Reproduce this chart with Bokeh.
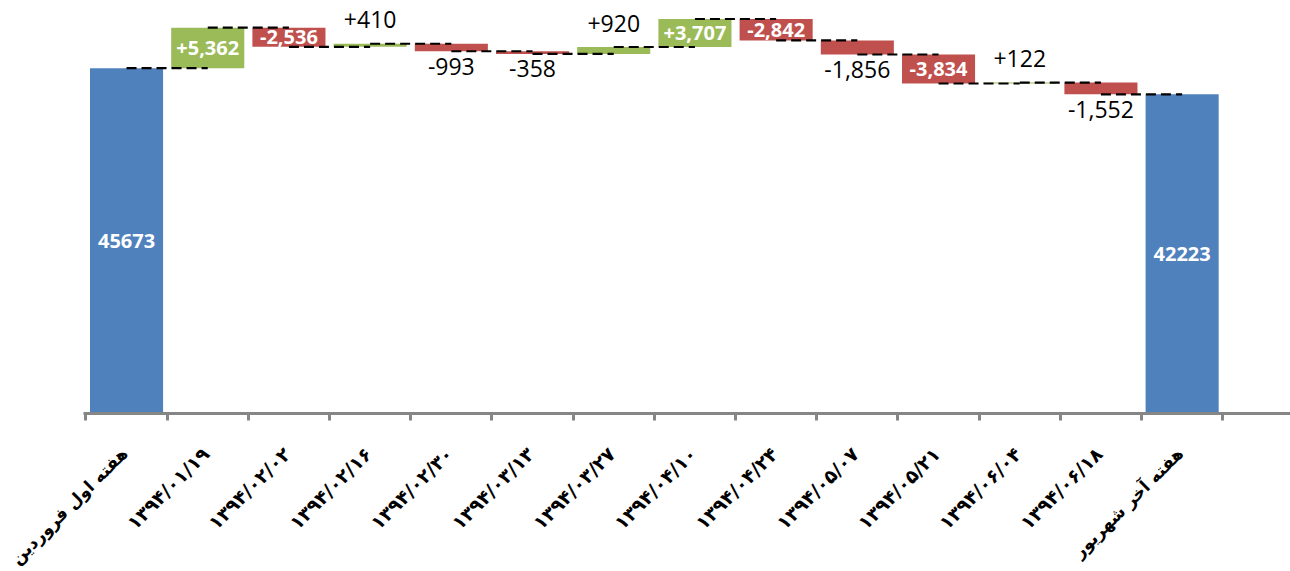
import math
import numpy as np
from bokeh.plotting import figure
from bokeh.models import Range1d, FixedTicker, CustomJSTickFormatter
from bokeh.core.properties import value
from bokeh.embed import file_html
from bokeh.resources import INLINE

categories = ["هفته اول فروردین", "۱۳۹۴/۰۱/۱۹", "۱۳۹۴/۰۲/۰۲", "۱۳۹۴/۰۲/۱۶", "۱۳۹۴/۰۲/۳۰",
              "۱۳۹۴/۰۳/۱۳", "۱۳۹۴/۰۳/۲۷", "۱۳۹۴/۰۴/۱۰", "۱۳۹۴/۰۴/۲۴", "۱۳۹۴/۰۵/۰۷",
              "۱۳۹۴/۰۵/۲۱", "۱۳۹۴/۰۶/۰۴", "۱۳۹۴/۰۶/۱۸", "هفته آخر شهریور"]
start_value = 45673
changes = [5362, -2536, 410, -993, -358, 920, 3707, -2842, -1856, -3834, 122, -1552]
end_value = 42223

BLUE, GREEN, RED = "#4F81BD", "#9BBB59", "#C0504D"

n = len(categories)
running = start_value + np.cumsum(changes)

xs = list(range(n))
bottoms, tops, colors = [0], [start_value], [BLUE]
prev = start_value
for v, r in zip(changes, running):
    bottoms.append(min(prev, r))
    tops.append(max(prev, r))
    colors.append(GREEN if v > 0 else RED)
    prev = r
bottoms.append(0)
tops.append(end_value)
colors.append(BLUE)

W, H = 1290, 571
px_per_cat = 81.2          # horizontal pixels per category
px_per_unit = 0.00756      # vertical pixels per value unit
axis_px_x, axis_px_y = 83, 413   # where the plot area starts / the baseline sits
x0 = -0.53 - axis_px_x / px_per_cat
x1 = -0.53 + (W - axis_px_x) / px_per_cat
y0 = -(H - axis_px_y) / px_per_unit
y1 = axis_px_y / px_per_unit

p = figure(width=W, height=H, output_backend="svg", toolbar_location=None,
           x_range=Range1d(x0, x1), y_range=Range1d(y0, y1),
           y_axis_location=None, min_border_left=0, min_border_right=0,
           min_border_top=0, min_border_bottom=0)
p.outline_line_color = None
p.grid.visible = False

p.vbar(x=xs, bottom=bottoms, top=tops, width=0.9, fill_color=colors, line_color=None)

# connectors
levels = [start_value] + list(running)
p.segment(x0=xs[:-1], y0=levels, x1=xs[1:], y1=levels,
          line_color="black", line_width=2.2, line_dash="10 5")

# value labels
font = value("Open Sans")
in_x, in_y, in_t = [0, n - 1], [start_value / 2, end_value / 2], [str(start_value), str(end_value)]
up_x, up_y, up_t = [], [], []
dn_x, dn_y, dn_t = [], [], []
for i, v in enumerate(changes, start=1):
    lab = f"{v:+,}"
    if abs(v) >= 2000:
        in_x.append(i); in_y.append((bottoms[i] + tops[i]) / 2); in_t.append(lab)
    elif v > 0:
        up_x.append(i); up_y.append(tops[i]); up_t.append(lab)
    else:
        dn_x.append(i); dn_y.append(bottoms[i]); dn_t.append(lab)

p.text(x=in_x, y=in_y, text=in_t, text_font=font, text_font_style="bold",
       text_font_size="20px", text_color="white", text_align="center", text_baseline="middle")
p.text(x=up_x, y=up_y, text=up_t, text_font=font, text_font_size="23px",
       text_color="black", text_align="center", text_baseline="middle", y_offset=-24)
p.text(x=dn_x, y=dn_y, text=dn_t, text_font=font, text_font_size="23px",
       text_color="black", text_align="center", text_baseline="middle", y_offset=15)

# axis at value 0: line and tick marks between categories
ax = p.xaxis[0]
ax.fixed_location = 0
ax.bounds = (-0.53, x1)
ax.ticker = FixedTicker(ticks=xs, minor_ticks=[k - 0.5 for k in range(n + 1)])
ax.formatter = CustomJSTickFormatter(code="return '';")
ax.axis_line_color = "#868686"
ax.axis_line_width = 3
ax.major_tick_line_color = None
ax.minor_tick_line_color = "#868686"
ax.minor_tick_line_width = 3
ax.minor_tick_out = 7
ax.minor_tick_in = 0

# rotated category labels (dates slightly larger than the two word labels)
label_sizes = ["17px" if not c[0].isdigit() else "19px" for c in categories]
p.text(x=xs, y=[0] * n, text=categories, angle=math.pi / 4,
       x_offset=-2, y_offset=37, text_align="right", text_baseline="middle",
       text_font=value("DejaVu Sans"), text_font_style="bold",
       text_font_size=label_sizes, text_color="black")

open("out.html", "w").write(file_html(p, INLINE))
